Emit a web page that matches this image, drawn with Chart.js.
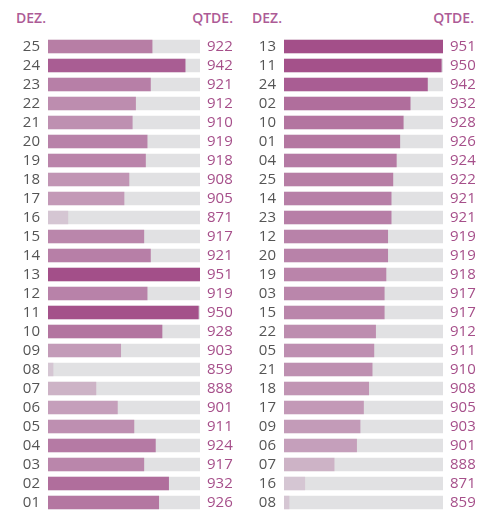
<!DOCTYPE html>
<html>
<head>
<meta charset="utf-8">
<script src="https://cdn.jsdelivr.net/npm/chart.js@4"></script>
<style>
  html, body { margin: 0; padding: 0; background: #ffffff; }
  body { width: 497px; height: 529px; position: relative; overflow: hidden; font-family: "Open Sans", sans-serif; }
  .hdr { position: absolute; top: 8px; font-size: 14px; font-weight: 600; color: #ad5b96; line-height: 20px; }
  .wrap { position: absolute; top: 0; height: 529px; }
</style>
</head>
<body>
<div class="hdr" style="left:16px;">DEZ.</div>
<div class="hdr" style="left:150px;width:83px;text-align:right;">QTDE.</div>
<div class="hdr" style="left:252px;">DEZ.</div>
<div class="hdr" style="left:390px;width:84px;text-align:right;">QTDE.</div>
<div class="wrap" style="left:0;width:248px;"><canvas id="c1" width="248" height="529"></canvas></div>
<div class="wrap" style="left:236px;width:261px;"><canvas id="c2" width="261" height="529"></canvas></div>
<script>
// Left panel: ordered by dezena
const dezenas = ["25","24","23","22","21","20","19","18","17","16","15","14","13","12","11","10","09","08","07","06","05","04","03","02","01"];
const quantidades = [922,942,921,912,910,919,918,908,905,871,917,921,951,919,950,928,903,859,888,901,911,924,917,932,926];

// Right panel: ordered by quantity
const dezenasOrdenadas = ["13","11","24","02","10","01","04","25","14","23","12","20","19","03","15","22","05","21","18","17","09","06","07","16","08"];
const quantidadesOrdenadas = [951,950,942,932,928,926,924,922,921,921,919,919,918,917,917,912,911,910,908,905,903,901,888,871,859];

const AXIS_MIN = 859;
const AXIS_MAX = 951;

function barColor(v) {
  let a = (v - 860) / 91;
  a = Math.max(0.18, Math.min(1, a));
  return 'rgba(163,79,137,' + a.toFixed(3) + ')';
}

function makeChart(id, labels, values, rightWidth) {
  const ctx = document.getElementById(id);
  return new Chart(ctx, {
    type: 'bar',
    data: {
      labels: labels,
      datasets: [
        {
          data: values,
          base: AXIS_MIN,
          minBarLength: 5,
          backgroundColor: values.map(barColor),
          barThickness: 13,
          grouped: false,
          order: 0,
          borderWidth: 0
        },
        {
          data: values.map(() => AXIS_MAX),
          base: AXIS_MIN,
          backgroundColor: '#e1e1e3',
          barThickness: 13,
          grouped: false,
          order: 1,
          borderWidth: 0
        }
      ]
    },
    options: {
      indexAxis: 'y',
      responsive: false,
      animation: false,
      events: [],
      layout: { padding: { top: 37, bottom: 17, left: 0, right: 0 } },
      plugins: { legend: { display: false }, tooltip: { enabled: false } },
      scales: {
        x: { display: false, min: AXIS_MIN, max: AXIS_MAX },
        y: {
          position: 'left',
          grid: { display: false, drawTicks: false },
          border: { display: false },
          ticks: { autoSkip: false, color: '#555555', padding: 8, font: { family: 'Open Sans', size: 15 } },
          afterFit: (s) => { s.width = 48; }
        },
        y2: {
          type: 'category',
          position: 'right',
          labels: values.map(String),
          grid: { display: false, drawTicks: false },
          border: { display: false },
          ticks: { autoSkip: false, color: '#a64f8a', padding: 7, font: { family: 'Open Sans', size: 15 } },
          afterFit: (s) => { s.width = rightWidth; }
        }
      }
    }
  });
}

makeChart('c1', dezenas, quantidades, 48);
makeChart('c2', dezenasOrdenadas, quantidadesOrdenadas, 54);
</script>
</body>
</html>
